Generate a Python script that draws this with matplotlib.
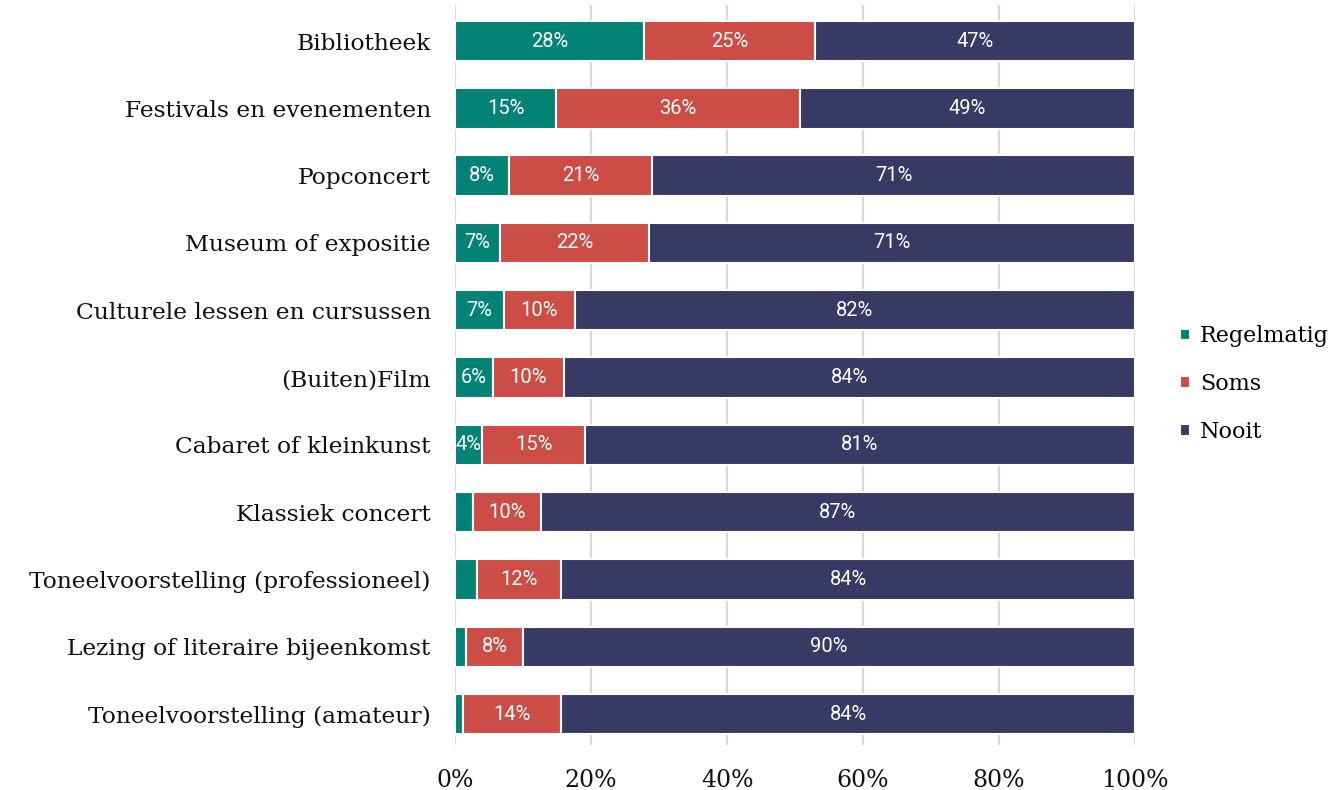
import matplotlib
matplotlib.use("Agg")
import matplotlib.pyplot as plt
import numpy as np

categories = ["Bibliotheek", "Festivals en evenementen", "Popconcert", "Museum of expositie",
              "Culturele lessen en cursussen", "(Buiten)Film", "Cabaret of kleinkunst",
              "Klassiek concert", "Toneelvoorstelling (professioneel)",
              "Lezing of literaire bijeenkomst", "Toneelvoorstelling (amateur)"]
regelmatig = [27.8, 14.9, 7.9, 6.6, 7.2, 5.6, 4.0, 2.6, 3.2, 1.6, 1.2]
soms = [25.2, 35.8, 21.1, 22.0, 10.4, 10.4, 15.1, 10.0, 12.4, 8.4, 14.4]
nooit = [47.0, 49.3, 71.0, 71.4, 82.4, 84.0, 80.9, 87.4, 84.4, 90.0, 84.4]
series_names = ["Regelmatig", "Soms", "Nooit"]
colors = ["#038276", "#cb4d45", "#383a66"]
xticks = [0, 20, 40, 60, 80, 100]
xticklabels = ["0%", "20%", "40%", "60%", "80%", "100%"]

W, H = 1344, 790
fig = plt.figure(figsize=(W / 100, H / 100), dpi=100)
ax = fig.add_axes([455 / W, 1 - 745 / H, (1135 - 455) / W, (745 - 5) / H])

serif = "DejaVu Serif"
y = np.arange(len(categories))
left = np.zeros(len(categories))
for name, vals, c in zip(series_names, [regelmatig, soms, nooit], colors):
    vals = np.array(vals)
    bars = ax.barh(y, vals, left=left, height=0.6, color=c, edgecolor="white",
                   linewidth=1.5, label=name, zorder=3)
    for b, v, l in zip(bars, vals, left):
        if v >= 3.5:
            ax.text(l + v / 2, b.get_y() + b.get_height() / 2, f"{round(v):.0f}%",
                    ha="center", va="center", color="white", fontsize=14.5,
                    family="Roboto", zorder=4)
    left = left + vals

ax.set_xlim(0, 100)
ax.set_ylim(10.46, -0.535)
ax.set_yticks(y)
ax.set_yticklabels(categories, family=serif, fontsize=16.8, color="#111111")
ax.set_xticks(xticks)
ax.set_xticklabels(xticklabels, family=serif, fontsize=17, color="#111111")
ax.tick_params(axis="y", length=0, pad=17.5)
ax.tick_params(axis="x", length=0, pad=17)
for s in ax.spines.values():
    s.set_visible(False)
ax.grid(axis="x", color="#d9d9d9", linewidth=1.6, zorder=0)
ax.set_axisbelow(True)

leg = ax.legend(loc="center left", bbox_to_anchor=(1160 / W, 1 - 384 / H),
                bbox_transform=fig.transFigure, frameon=False,
                prop={"family": serif, "size": 16}, handlelength=0.45,
                handleheight=0.45, handletextpad=0.45, labelspacing=1.15)

fig.savefig("out.png", dpi=100, facecolor="white")
